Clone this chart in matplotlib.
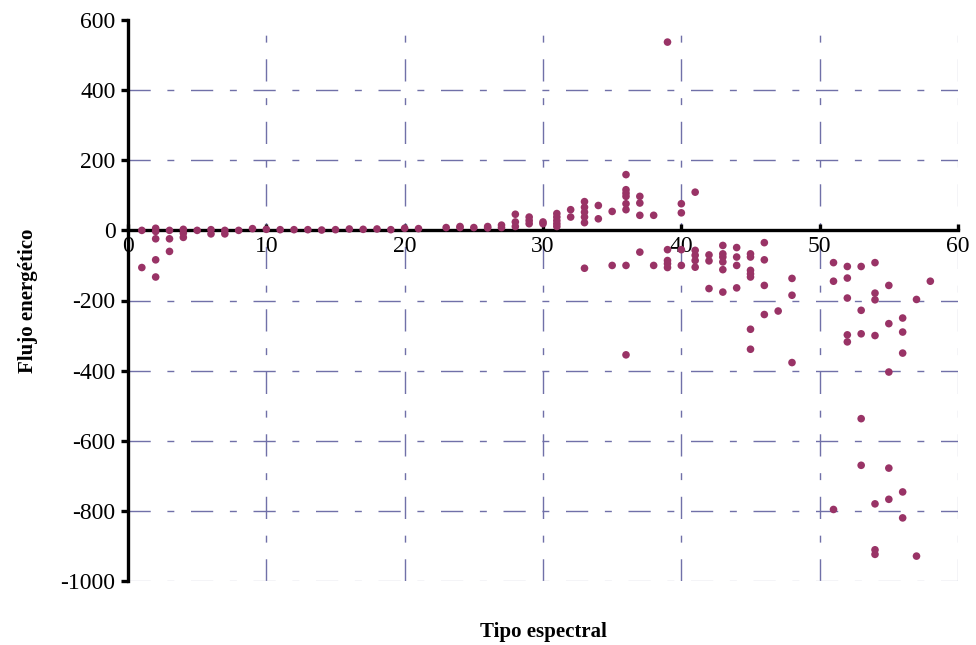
import matplotlib
matplotlib.use("Agg")
import matplotlib.pyplot as plt
import numpy as np

plt.rcParams['font.family'] = ['Liberation Serif', 'DejaVu Serif']

# spectral type (x) and the energy flux values observed at each type
tipos = [1, 2, 3, 4, 5, 6, 7, 8, 9, 10,
         11, 12, 13, 14, 15, 16, 17, 18, 19, 20,
         21, 23, 24, 25, 26, 27, 28, 29, 30, 31,
         32, 33, 34, 35, 36, 37, 38, 39, 40, 41,
         42, 43, 44, 45, 46, 47, 48, 51, 52, 53,
         54, 55, 56, 57, 58]

flujos = [
    [0, -106],
    [6, -3, -24, -84, -133],
    [0, -24, -60],
    [3, -8, -20],
    [0],
    [2, -10],
    [0, -10],
    [0],
    [5],
    [3],
    [2],
    [2],
    [2],
    [1],
    [2],
    [4],
    [3],
    [4],
    [2],
    [6],
    [5],
    [8],
    [11, 8],
    [8],
    [11, 7],
    [15, 8],
    [46, 24, 11],
    [38, 28, 19],
    [24, 19],
    [48, 38, 28, 19, 11],
    [59, 38],
    [82, 66, 52, 38, 22, -108],
    [71, 33],
    [54, -100],
    [159, 116, 106, 97, 76, 59, -100, -355],
    [97, 78, 43, -62],
    [43, -100],
    [537, -55, -86, -95, -106],
    [76, 50, -55, -100],
    [109, -57, -71, -86, -105],
    [-70, -87, -166],
    [-43, -67, -76, -90, -112, -176],
    [-49, -76, -100, -164],
    [-67, -76, -114, -124, -133, -282, -339],
    [-35, -84, -157, -240],
    [-230],
    [-137, -185, -377],
    [-92, -145, -796],
    [-103, -136, -193, -298, -318],
    [-103, -228, -295, -537, -670],
    [-92, -179, -198, -300, -780, -911, -924],
    [-157, -266, -404, -678, -767],
    [-250, -290, -350, -746, -820],
    [-197, -929],
    [-145],
]

x_ticks = [0, 10, 20, 30, 40, 50, 60]
y_ticks = [600, 400, 200, 0, -200, -400, -600, -800, -1000]

xs = []
ys = []
for t, vals in zip(tipos, flujos):
    for v in vals:
        xs.append(t)
        ys.append(v)

fig = plt.figure(figsize=(9.76, 6.45), dpi=100)
ax = fig.add_axes([128 / 976, 64 / 645, 830 / 976, 561 / 645])

ax.set_xlim(0, 60)
ax.set_ylim(-1000, 600)

# dash-dot grid like the original spreadsheet chart
grid_style = (0, (16, 12, 5, 12))
for gx in x_ticks[1:]:
    c = '#c8c8d8' if gx == 60 else '#7070a8'
    ax.axvline(gx, color=c, lw=1.0, linestyle=grid_style, zorder=1)
for gy in y_ticks:
    if gy in (0, 600):
        continue
    c = '#c8c8d8' if gy == -1000 else '#7070a8'
    ax.axhline(gy, color=c, lw=1.0, linestyle=grid_style, zorder=1)

ax.scatter(xs, ys, s=30, color='#993366', edgecolors='none', zorder=4)

ax.spines['top'].set_visible(False)
ax.spines['right'].set_visible(False)
ax.spines['bottom'].set_position(('data', 0))
ax.spines['bottom'].set_linewidth(2.4)
ax.spines['left'].set_linewidth(2.4)
ax.spines['bottom'].set_zorder(3)
ax.spines['left'].set_zorder(3)

ax.set_xticks(x_ticks)
ax.set_yticks(y_ticks)
ax.set_yticklabels([str(v) for v in y_ticks])
ax.tick_params(axis='y', direction='out', length=5, width=2.4, labelsize=17, pad=4)
ax.tick_params(axis='x', direction='in', length=4, width=2.4, labelsize=17, pad=4)

ax.set_xlabel('Tipo espectral', fontsize=15, fontweight='bold')
ax.set_ylabel('Flujo energético', fontsize=15, fontweight='bold')
ax.xaxis.set_label_coords(0.5, -0.073)
ax.yaxis.set_label_coords(-0.108, 0.5)

fig.savefig('out.png', dpi=100)
